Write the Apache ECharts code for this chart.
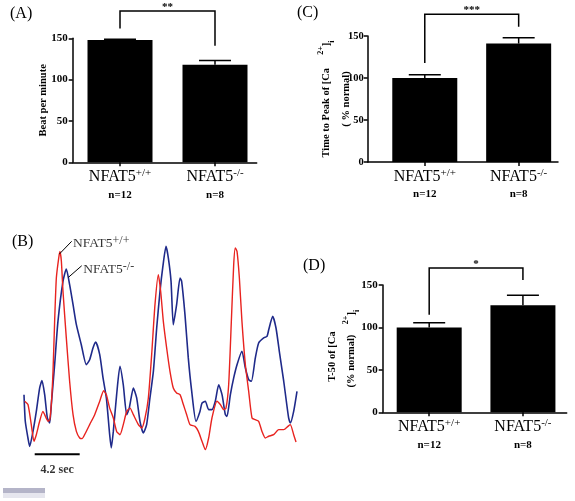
<!DOCTYPE html>
<html><head><meta charset="utf-8">
<script src="https://cdn.jsdelivr.net/npm/echarts@6/dist/echarts.min.js"></script>
<style>html,body{margin:0;padding:0;background:#fff}#c{width:575px;height:501px}</style>
</head><body><div id="c"></div>
<script>
// ---------------- data ----------------
const genotypes = ['NFAT5', 'NFAT5'];
const genotypeSup = ['+/+', '-/-'];
const sampleN = ['n=12', 'n=8'];

// (A) beats per minute
const beatMean = [148, 118];
const beatSem = [1, 5];
// (C) time to peak of [Ca2+]i (% normal)
const peakMean = [100, 141];
const peakSem = [4, 7];
// (D) T-50 of [Ca2+]i (% normal)
const t50Mean = [100, 126];
const t50Sem = [5.5, 12];

// significance brackets: [top, left leg end, right leg end] in axis units
const sigStars = ['**', '***', '*'];
const bracketTop = [183, 176, 170];
const bracketLeftEnd = [162, 118, 115];
const bracketRightEnd = [141, 161, 156];

// (B) calcium transients (time in s, signal in arbitrary units)
const wtTime = [0.06,0.37,0.68,0.93,1.15,1.46,1.77,1.93,2.24,2.40,2.55,2.71,2.86,3.02,3.24,3.36,3.49,3.64,3.95,4.26,4.58,4.89,5.20,5.42,5.66,6.13,6.60,7.07,7.44,7.69,8.00,8.34,8.65,8.96,9.27,9.59,9.90,10.21,10.68,10.99,11.30,11.61,11.92,12.23,12.54,12.76,13.01,13.32,13.63,13.94,14.25,14.57,14.88,15.19,15.50,15.97,16.28,16.62,16.93,17.24,17.55,18.02,18.33,18.64,18.86,19.11,19.36,19.58,19.73,19.89,20.11,20.35,20.67,20.98,21.29,21.60,21.91,22.22,22.53,22.85,23.31,23.78,24.25,24.65,24.87,25.18,25.40];
const wtSignal = [26.7,25.2,16.1,8.5,11.5,17.6,22.1,20.6,17.6,18.3,25.2,40.3,63.0,82.7,91.8,94.8,90.3,76.7,55.5,35.8,20.6,13.0,10.0,9.7,11.5,16.1,20.6,26.7,31.5,29.7,23.6,19.1,13.0,11.5,16.1,22.1,23.6,20.6,16.1,14.5,19.1,28.2,47.9,70.6,84.2,76.7,63.0,50.9,40.3,32.7,30.5,29.7,25.2,20.6,16.1,15.3,13.0,8.5,4.7,10.0,19.1,26.7,25.2,22.9,23.6,34.2,63.0,88.8,96.4,94.8,82.7,63.0,43.3,31.2,19.1,18.3,17.6,13.0,10.0,10.8,11.5,13.8,13.8,15.3,16.1,11.5,8.2];
const koTime = [0.00,0.12,0.37,0.53,0.84,1.15,1.46,1.68,1.93,2.18,2.40,2.55,2.86,3.17,3.64,3.95,4.26,4.58,4.89,5.35,5.82,6.13,6.44,6.69,7.07,7.38,7.69,8.00,8.15,8.34,8.65,8.96,9.27,9.59,9.83,10.21,10.52,10.83,11.14,11.45,11.76,12.08,12.39,12.70,12.95,13.26,13.48,13.73,13.94,14.25,14.57,14.72,15.03,15.34,15.66,16.06,16.43,16.62,16.93,17.24,17.55,17.86,18.18,18.49,18.80,18.95,19.27,19.58,19.89,20.35,20.67,20.98,21.23,21.60,21.91,22.38,22.69,22.85,23.22,23.53,23.84,24.25,24.71,24.87,25.18,25.49];
const koSignal = [29.7,17.6,10.0,6.2,13.0,22.1,32.7,36.1,29.7,19.1,16.8,25.2,43.3,63.0,81.2,86.8,79.7,70.6,61.5,52.4,43.3,45.6,50.9,53.6,47.9,37.3,28.2,11.5,5.5,13.0,29.7,42.6,34.2,20.6,23.6,32.7,28.2,17.6,12.3,16.1,28.2,40.3,60.0,76.7,87.3,97.1,91.8,81.2,61.5,70.6,82.7,81.2,66.1,46.4,31.2,17.6,22.1,25.9,26.7,22.9,22.9,26.7,34.2,29.7,20.6,19.8,29.7,37.3,43.3,49.4,41.8,36.5,35.8,46.4,53.2,55.5,56.2,59.2,65.3,60.0,49.4,35.8,19.1,16.8,22.1,31.2];
const scaleBarStart = 1.0, scaleBarLength = 4.2, scaleBarLevel = 2.6;
const scaleBarText = '4.2 sec';
// trace labels: leader line [start, end] and label anchor
const wtLeader = [[3.30, 93.6], [4.45, 99.4]];
const koLeader = [[4.14, 83.0], [5.39, 88.3]];
const wtLabelAt = [4.58, 98.6];
const koLabelAt = [5.54, 86.8];

// ---------------- chart ----------------
const FONT = '"Liberation Serif", "Times New Roman", serif';
const BLACK = '#000';
const RED = '#e8231f';
const BLUE = '#1f2a8a';

const barPanels = [
  { mean: beatMean, sem: beatSem, grid: {left: 72.7, top: 38.3, width: 184, height: 124}, xmin: -0.498, xmax: 1.439,
    name: 'Beat per minute', nameGap: 23, nameLH: 13, tickFont: 11, tickMargin: 5 },
  { mean: peakMean, sem: peakSem, grid: {left: 367.7, top: 36, width: 190.3, height: 126}, xmin: -0.608, xmax: 1.419,
    name: 'Time to Peak of [Ca     {sup|2+}]{sub|i}\n( % normal)', nameGap: 12, nameLH: 19.5, tickFont: 10.5, tickMargin: 4 },
  { mean: t50Mean, sem: t50Sem, grid: {left: 382.7, top: 285, width: 184, height: 127.3}, xmin: -0.496, xmax: 1.467,
    name: 'T-50 of [Ca      \n(% normal)    {sup|2+}]{sub|i}', nameGap: 22, nameLH: 19, tickFont: 11, tickMargin: 5 }
];

const grids = barPanels.map(p => p.grid).concat([{left: 24, top: 240, width: 273.1, height: 242}]);

const axisLineStyle = {color: BLACK, width: 1.5};
const xAxes = barPanels.map((p, i) => ({
  type: 'value', gridIndex: i, min: p.xmin, max: p.xmax,
  splitLine: {show: false},
  axisLine: {show: true, onZero: false, lineStyle: axisLineStyle},
  axisTick: {show: true, customValues: [0, 1], length: 4, lineStyle: axisLineStyle},
  axisLabel: {
    show: true, customValues: [0, 1], margin: 5.5,
    formatter: v => { const k = Math.round(v); return `{m|${genotypes[k]}}{sup|${genotypeSup[k]}}\n{n|${sampleN[k]}}`; },
    rich: {
      m: {fontFamily: FONT, fontSize: 16, color: BLACK, lineHeight: 18},
      sup: {fontFamily: FONT, fontSize: 11, color: BLACK, lineHeight: 13, verticalAlign: 'top'},
      n: {fontFamily: FONT, fontSize: 11, fontWeight: 'bold', color: BLACK, lineHeight: 18}
    }
  }
})).concat([{type: 'value', gridIndex: 3, min: 0, max: 25.5, show: false}]);

const yAxes = barPanels.map((p, i) => ({
  type: 'value', gridIndex: i, min: 0, max: 150, interval: 50,
  splitLine: {show: false},
  axisLine: {show: true, onZero: false, lineStyle: axisLineStyle},
  axisTick: {show: true, length: 4, lineStyle: axisLineStyle},
  axisLabel: {margin: p.tickMargin, color: BLACK, fontFamily: FONT, fontWeight: 'bold', fontSize: p.tickFont},
  name: p.name, nameLocation: 'middle', nameRotate: 90, nameGap: p.nameGap, nameMoveOverlap: false,
  nameTextStyle: {
    fontFamily: FONT, fontWeight: 'bold', fontSize: 10.5, color: BLACK, lineHeight: p.nameLH,
    rich: {
      sup: {fontFamily: FONT, fontWeight: 'bold', fontSize: 8, color: BLACK, lineHeight: 8, verticalAlign: 'top'},
      sub: {fontFamily: FONT, fontWeight: 'bold', fontSize: 8, color: BLACK, lineHeight: 8, verticalAlign: 'bottom'}
    }
  }
})).concat([{type: 'value', gridIndex: 3, min: -10, max: 100, show: false}]);

const series = [];
barPanels.forEach((p, i) => {
  series.push({
    type: 'bar', xAxisIndex: i, yAxisIndex: i, barWidth: 65,
    data: p.mean.map((m, k) => [k, m]), itemStyle: {color: BLACK}, silent: true
  });
  series.push({
    type: 'custom', xAxisIndex: i, yAxisIndex: i, clip: false, silent: true, z: 5,
    data: p.mean.map((m, k) => [k, m, p.sem[k]]),
    renderItem: (params, api) => {
      const x = api.value(0), m = api.value(1), s = api.value(2);
      const p0 = api.coord([x, m]), p1 = api.coord([x, m + s]);
      return {type: 'group', children: [
        {type: 'line', shape: {x1: p0[0], y1: p0[1], x2: p1[0], y2: p1[1]}, style: {stroke: BLACK, lineWidth: 1.5}},
        {type: 'line', shape: {x1: p1[0] - 16, y1: p1[1], x2: p1[0] + 16, y2: p1[1]}, style: {stroke: BLACK, lineWidth: 1.5}}
      ]};
    }
  });
  series.push({
    type: 'custom', xAxisIndex: i, yAxisIndex: i, clip: false, silent: true, z: 5,
    data: [[0, 1, bracketTop[i], bracketLeftEnd[i], bracketRightEnd[i]]],
    renderItem: (params, api) => {
      const l = api.coord([api.value(0), api.value(3)]);
      const lt = api.coord([api.value(0), api.value(2)]);
      const rt = api.coord([api.value(1), api.value(2)]);
      const r = api.coord([api.value(1), api.value(4)]);
      return {type: 'group', children: [
        {type: 'polyline', shape: {points: [l, lt, rt, r]}, style: {stroke: BLACK, lineWidth: 1.5, fill: null}},
        {type: 'text', x: (lt[0] + rt[0]) / 2, y: lt[1] - 4,
         style: {text: sigStars[i], fontFamily: FONT, fontWeight: 'bold', fontSize: 11, align: 'center', verticalAlign: 'middle', fill: BLACK}}
      ]};
    }
  });
});

// panel B
const zip = (a, b) => a.map((v, k) => [v, b[k]]);
series.push({type: 'line', xAxisIndex: 3, yAxisIndex: 3, data: zip(koTime, koSignal), showSymbol: false, silent: true,
  lineStyle: {color: BLUE, width: 1.6}, smooth: 0.2});
series.push({type: 'line', xAxisIndex: 3, yAxisIndex: 3, data: zip(wtTime, wtSignal), showSymbol: false, silent: true,
  lineStyle: {color: RED, width: 1.4}, smooth: 0.2});
series.push({type: 'line', xAxisIndex: 3, yAxisIndex: 3, silent: true, showSymbol: false,
  data: [[scaleBarStart, scaleBarLevel], [scaleBarStart + scaleBarLength, scaleBarLevel]],
  lineStyle: {color: BLACK, width: 2}});
series.push({type: 'line', xAxisIndex: 3, yAxisIndex: 3, silent: true, showSymbol: false, data: wtLeader,
  lineStyle: {color: BLACK, width: 1}});
series.push({type: 'line', xAxisIndex: 3, yAxisIndex: 3, silent: true, showSymbol: false, data: koLeader,
  lineStyle: {color: BLACK, width: 1}});
const traceRich = {
  m: {fontFamily: FONT, fontSize: 13.5, color: BLACK, lineHeight: 16},
  sup: {fontFamily: FONT, fontSize: 12, color: BLACK, lineHeight: 12, verticalAlign: 'top'}
};
series.push({type: 'scatter', xAxisIndex: 3, yAxisIndex: 3, silent: true, symbolSize: 0,
  data: [
    {value: wtLabelAt, label: {formatter: `{m|${genotypes[0]}}{sup|${genotypeSup[0]}}`}},
    {value: koLabelAt, label: {formatter: `{m|${genotypes[1]}}{sup|${genotypeSup[1]}}`}},
    {value: [scaleBarStart + scaleBarLength / 2, -4.5],
     label: {position: 'inside', formatter: scaleBarText, fontFamily: FONT, fontWeight: 'bold', fontSize: 12, color: BLACK}}
  ],
  label: {show: true, position: 'right', distance: 0, rich: traceRich}
});

const titleStyle = {fontFamily: FONT, fontSize: 16, fontWeight: 'normal', color: BLACK};
const option = {
  animation: false,
  backgroundColor: '#fff',
  title: [
    {text: '(A)', left: 10, top: 5.5, padding: 0, textStyle: titleStyle},
    {text: '(C)', left: 297, top: 4.5, padding: 0, textStyle: titleStyle},
    {text: '(B)', left: 12, top: 234, padding: 0, textStyle: titleStyle},
    {text: '(D)', left: 303, top: 257.5, padding: 0, textStyle: titleStyle}
  ],
  grid: grids,
  xAxis: xAxes,
  yAxis: yAxes,
  series: series,
  graphic: [
    {type: 'rect', left: 3, top: 488, shape: {width: 42, height: 10}, style: {fill: '#e6e6ee'}, silent: true},
    {type: 'rect', left: 3, top: 488, shape: {width: 42, height: 5}, style: {fill: '#b4b4c8'}, silent: true}
  ]
};
const chart = echarts.init(document.getElementById('c'), null, {renderer: 'canvas'});
chart.setOption(option);
</script>
</body></html>
